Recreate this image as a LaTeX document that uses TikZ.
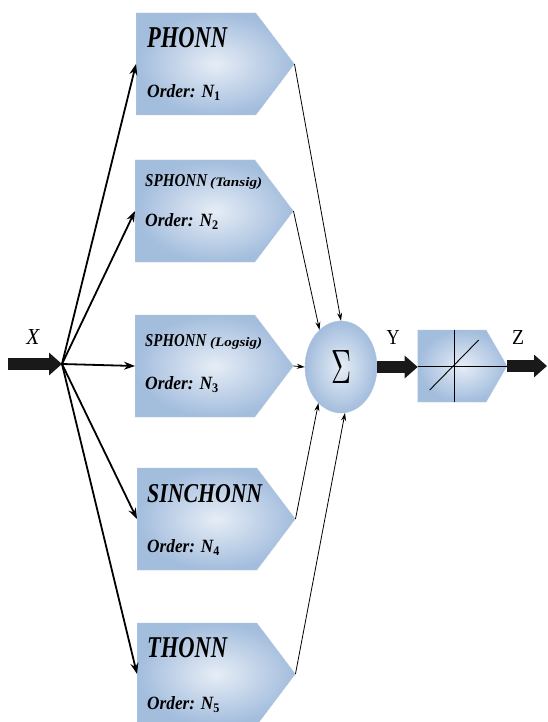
\documentclass[tikz,border=0pt]{standalone}
\usepackage{fontspec}
\setmainfont{Liberation Serif}
\usetikzlibrary{shapes.symbols,shapes.geometric,arrows.meta}

\definecolor{boxlight}{RGB}{230,237,246}
\definecolor{boxdark}{RGB}{163,189,221}
\definecolor{boxedge}{RGB}{178,199,225}

% text squeezed to a given width and height
\newcommand{\fitbox}[3]{\resizebox{#1pt}{#2pt}{#3}}
\newcommand{\ordertext}[1]{Order: N\textsubscript{\upshape #1}}

\begin{document}
\begin{tikzpicture}[x=1pt, y=-1pt,
    model/.style = {signal, signal to=east, signal pointer angle=106, minimum width=158, minimum height=102,
                    inner sep=0pt, draw=boxedge, inner color=boxlight, outer color=boxdark},
    title/.style = {anchor=base west, inner sep=0pt, font=\bfseries\itshape},
    feed/.style = {-{Stealth[length=11pt,width=8pt]}, line width=1.8pt},
    merge/.style = {-{Stealth[length=8pt,width=5pt]}, line width=0.8pt},
    bus/.style = {-{Triangle[length=13pt,width=22pt]}, line width=12pt, black!90}
]
\useasboundingbox (0,0) rectangle (547,722);

% model blocks
\node[model] (phonn) at (196,64) {};
\node[model] (sphonnt) at (195,211) {};
\node[model] (sphonnl) at (195,366) {};
\node[model] (sinchonn) at (197,519) {};
\node[model] (thonn) at (197,674) {};

\node[title] (phonn-t) at ([shift={(11,35)}]phonn.north west) {\fitbox{80}{20}{PHONN}};
\node[title] (phonn-o) at ([shift={(11,85)}]phonn.north west) {\fitbox{74}{13}{\ordertext{1}}};
\node[title] (sphonnt-t) at ([shift={(10,27)}]sphonnt.north west)
    {\fitbox{62}{12}{SPHONN}\hspace{3pt}\fitbox{52}{9}{(Tansig)}};
\node[title] (sphonnt-o) at ([shift={(10,67)}]sphonnt.north west) {\fitbox{74}{13}{\ordertext{2}}};
\node[title] (sphonnl-t) at ([shift={(10,32)}]sphonnl.north west)
    {\fitbox{61}{12}{SPHONN}\hspace{4pt}\fitbox{52}{9}{(Logsig)}};
\node[title] (sphonnl-o) at ([shift={(10,75)}]sphonnl.north west) {\fitbox{74}{13}{\ordertext{3}}};
\node[title] (sinchonn-t) at ([shift={(10,35)}]sinchonn.north west) {\fitbox{115}{18}{SINCHONN}};
\node[title] (sinchonn-o) at ([shift={(10,85)}]sinchonn.north west) {\fitbox{73}{13}{\ordertext{4}}};
\node[title] (thonn-t) at ([shift={(10,35)}]thonn.north west) {\fitbox{80}{20}{THONN}};
\node[title] (thonn-o) at ([shift={(10,87)}]thonn.north west) {\fitbox{73}{13}{\ordertext{5}}};

% summing node and output block
\node[ellipse, minimum width=72, minimum height=92, inner sep=0pt, draw=boxedge,
      inner color=boxlight, outer color=boxdark] (sum) at (341,367) {\fitbox{20}{33}{$\Sigma$}};
\node[model, minimum width=89, minimum height=72, signal pointer angle=120] (act) at (452,366) {};
\draw[line width=0.9pt] (act.west) -- (act.east);
\draw[line width=0.9pt] ([shift={(37,0)}]act.north west) -- ([shift={(37,0)}]act.south west);
\draw[line width=0.9pt] ([shift={(12,24)}]act.west) -- ([shift={(61,-26)}]act.west);

% input
\coordinate (xin) at (8,364);
\coordinate (xj) at (62,364);
\coordinate (zout) at (547,366);
\node (xlab) at (33,337) {\fitbox{13}{15}{\itshape X}};
\node (ylab) at (393,337) {\fitbox{13}{14}{Y}};
\node (zlab) at (518,337) {\fitbox{12}{14}{Z}};

\draw[bus] (xin) -- (xj);
\foreach \b in {phonn,sphonnt,sphonnl,sinchonn,thonn}
    \draw[feed] (xj) -- (\b.west);

\draw[merge] (phonn.east) -- (sum.north);
\draw[merge] (sphonnt.east) -- (sum.120);
\draw[merge] (sphonnl.east) -- (sum.west);
\draw[merge] (sinchonn.east) -- (sum.238);
\draw[merge] (thonn.east) -- (sum.275);

\draw[bus] (sum.east) -- (sum.east -| act.west);
\draw[bus] (act.east) -- (zout);

\end{tikzpicture}
\end{document}
